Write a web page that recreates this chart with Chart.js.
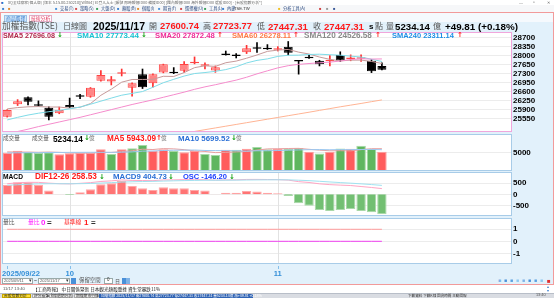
<!DOCTYPE html>
<html><head><meta charset="utf-8">
<script src="https://cdn.jsdelivr.net/npm/chart.js@4.4.1/dist/chart.umd.min.js"></script>
<style>
html,body{margin:0;padding:0;}
body{width:554px;height:298px;overflow:hidden;background:#fff;position:relative;}
.t{position:absolute;white-space:nowrap;line-height:1;}
.box{position:absolute;box-sizing:border-box;}
canvas{position:absolute;}
</style></head><body>
<div class="box" style="left:0;top:0;width:554px;height:5px;background:#fff"></div>
<div class="box" style="left:0;top:5px;width:554px;height:8px;background:#f6f7f9;border-bottom:1px solid #d8dde6"></div>
<div class="box" style="left:0;top:12px;width:554px;height:273px;background:#e2f1fb;border:1px solid #f29a9a"></div>
<div class="box" style="left:1px;top:13px;width:552px;height:9px;background:#f5f9fd"></div>
<div class="box" style="left:4px;top:14.5px;width:23px;height:7px;background:#d4e8f8;border:1px solid #9cc3e6"></div>
<div class="box" style="left:29px;top:14.5px;width:23px;height:7px;background:#fff;border:1px solid #e0b0c8"></div>
<div class="box" style="left:0;top:285px;width:554px;height:8px;background:#fff"></div>
<div class="box" style="left:0;top:293px;width:554px;height:5px;background:#d9dce2;border-top:1px solid #b8bec8"></div>
<div class="box" style="left:2px;top:293.5px;width:29px;height:4.5px;background:#ffe03a;border:1px solid #c8a800"></div>
<div class="box" style="left:32px;top:293.5px;width:16px;height:4.5px;background:#f0f0f0;border:1px solid #aaa"></div>
<div class="box" style="left:49px;top:293.5px;width:24px;height:4.5px;background:#f0f0f0;border:1px solid #aaa"></div>
<div class="box" style="left:74px;top:293.5px;width:24px;height:4.5px;background:#f0f0f0;border:1px solid #aaa"></div>
<div class="box" style="left:99px;top:293.5px;width:154px;height:4.5px;background:#2f63b4"></div>
<div class="box" style="left:2px;top:277.5px;width:31px;height:6px;background:#fff;border:1px solid #9aa"></div>
<div class="box" style="left:38px;top:277.5px;width:32px;height:6px;background:#fff;border:1px solid #9aa"></div>
<div class="box" style="left:71px;top:277.5px;width:5px;height:6px;background:#4a90d8"></div>
<div class="box" style="left:104px;top:277.5px;width:9px;height:6px;background:#fff;border:1px solid #9aa"></div>
<div class="box" style="left:122px;top:277.5px;width:4px;height:6px;background:#4a90d8"></div>
<div class="box" style="left:126px;top:277.5px;width:4px;height:6px;background:#7fb2e6"></div>

<canvas id="cPrice" width="552" height="100" style="left:2px;top:32px"></canvas>
<canvas id="cVol" width="552" height="37" style="left:2px;top:134px"></canvas>
<canvas id="cMacd" width="552" height="44" style="left:2px;top:172px"></canvas>
<canvas id="cRatio" width="552" height="59" style="left:2px;top:218px"></canvas>

<script>
// ---------- data ----------
const dates = ['2025/09/22','2025/09/23','2025/09/24','2025/09/25','2025/09/26','2025/09/30',
 '2025/10/01','2025/10/02','2025/10/03','2025/10/07','2025/10/08','2025/10/09','2025/10/13','2025/10/14',
 '2025/10/15','2025/10/16','2025/10/17','2025/10/20','2025/10/21','2025/10/22','2025/10/23','2025/10/27',
 '2025/10/28','2025/10/29','2025/10/30','2025/10/31','2025/11/03','2025/11/04','2025/11/05','2025/11/06',
 '2025/11/07','2025/11/10','2025/11/11','2025/11/12','2025/11/13','2025/11/14','2025/11/17'];
const opens  = [25628,26110,26380,26065,25978,25760,26080,26420,26405,27028,26990,27300,26755,27277,26925,27340,27378,27417,27700,27610,27420,28045,28010,28130,28320,28265,28230,28350,27785,27915,27805,27780,28025,27870,27880,27805,27600.74];
const highs  = [25900,26290,26400,26240,26010,26000,26350,26500,26760,27420,27190,27480,26940,27480,27290,27670,27535,27770,27950,27720,27600,28180,28080,28400,28505,28430,28350,28550,27800,28030,27820,28000,28150,28030,28030,27850,27723.77];
const lows   = [25610,26060,26080,26040,25500,25740,25980,26330,26380,27010,26860,27210,26420,26720,26770,27330,27300,27350,27680,27480,27350,28020,27910,28080,28130,28240,28180,28030,27280,27890,27600,27600,27770,27800,27780,27340,27447.31];
const closes = [25888,26230,26210,26050,25628,25890,25990,26405,26755,27250,27080,27350,26925,26770,27277,27665,27315,27677,27730,27640,27550,28030,27990,28290,28270,28250,28280,28115,27770,27900,27665,27830,27810,27920,27910,27397.5,27447.31];
const sma5   = [25930,25980,26010,26020,26001,26002,25954,25993,26134,26458,26696,26968,27072,27075,27080,27197,27190,27341,27533,27605,27582,27725,27788,27900,28026,28166,28216,28241,28137,28063,27946,27856,27795,27825,27827,27774,27696.08];
const sma10  = [25500,25600,25690,25760,25820,25870,25930,26000,26110,26230,26349,26461,26532,26604,26769,26947,27079,27206,27304,27343,27390,27458,27564,27716,27816,27874,27971,28015,28019,28045,28056,28036,28018,27981,27945,27860,27773.44];
const sma20  = [24950,25050,25140,25240,25330,25420,25510,25600,25700,25800,25900,26000,26100,26190,26280,26380,26480,26580,26690,26786,26869,26959,27048,27160,27292,27410,27525,27610,27661,27694,27723,27747,27791,27849,27880,27867,27872.48];
const sma60  = [23830,23900,23970,24040,24110,24170,24240,24310,24380,24440,24510,24580,24640,24710,24780,24850,24920,24984,25052,25120,25188,25256,25324,25392,25460,25528,25596,25664,25732,25800,25870,25940,26010,26075,26140,26210,26278.11];
const volume = [5000,5470,5230,5000,5100,4620,4850,5000,5000,5800,4700,5800,6030,6800,5400,5800,5470,5100,5400,4700,4450,5700,5700,5930,6330,5800,5930,5930,6100,5220,4800,5230,6000,5900,6650,5930,5234.14];
const volMa5 = [5200,5150,5150,5100,5160,5084,4960,4914,4914,5054,5070,5260,5466,5826,5746,5966,5900,5714,5434,5294,5024,5070,5190,5296,5622,5892,5938,5984,6018,5796,5596,5456,5470,5430,5716,5942,5943.09];
const volMa10= [4950,4980,5000,5020,5050,5060,5080,5090,5100,5107,5077,5110,5190,5370,5400,5518,5580,5590,5630,5520,5495,5485,5452,5365,5458,5458,5504,5587,5657,5709,5744,5697,5727,5724,5756,5769,5699.52];
const dif    = [480,522,544,541,507,482,474,498,529,583,610,651,630,624,619,652,656,667,662,665,640,654,657,675,676,671,667,645,575,537,476,439,417,398,353,310,258.53];
const macd9  = [412,434,456,473,480,480,479,483,492,510,530,554,569,580,588,601,612,623,631,638,638,641,644,650,655,658,660,657,640,620,591,561,532,505,475,442,404.73];
const osc    = [68,88,88,68,27,2,-5,15,37,73,80,97,61,44,31,51,44,44,31,27,2,12,12,24,20,12,7,-12,-66,-83,-115,-122,-115,-107,-122,-132,-146.20];
const volRatio = [0,0,0,0,0,0,0,0,0,0,0,0,0,0,0,0,0,0,0,0,0,0,0,0,0,0,0,0,0,0,0,0,0,0,0,0,0];
const baseLine = [1,1,1,1,1,1,1,1,1,1,1,1,1,1,1,1,1,1,1,1,1,1,1,1,1,1,1,1,1,1,1,1,1,1,1,1,1];
const priceTicks = [28700,28350,28000,27650,27300,26950,26600,26250,25900,25550];
const volTicks = [5000];
const macdTicks = [500,0,-500];
const ratioTicks = [1,0,-1];

// ---------- text helper ----------
function T(x, cy, txt, o) {
  o = o || {};
  const s = document.createElement('div');
  s.className = 't';
  let size = o.s || 7;
  const k = o.cjk ? 0.52 : 0.49;
  s.style.left = x + 'px';
  s.style.fontSize = size + 'px';
  s.style.color = o.c || '#000';
  s.style.fontWeight = o.b ? 'bold' : 'normal';
  s.style.fontFamily = o.cjk ? '"Noto Sans CJK TC",sans-serif' : (o.f || '"Liberation Sans",sans-serif');
  s.textContent = txt;
  document.body.appendChild(s);
  if (o.w) {
    const w = s.getBoundingClientRect().width;
    if (w > 0) {
      size = Math.max(size * 0.75, Math.min(size * 1.25, size * o.w / w));
      s.style.fontSize = size + 'px';
    }
  }
  s.style.top = (cy - size * k) + 'px';
}
const GREEN = '#17a317', RED = '#ff1a1a';
function arrow(x, cy, up, s) { T(x, cy, up ? '↑' : '↓', {s: s || 7, b: true, c: up ? RED : GREEN, f: '"DejaVu Sans",sans-serif'}); }

// title bar
T(1, 2.5, '■', {s: 4, c: '#2b6fc4'});
T(8, 2.5, 'XQ全球贏家(個人版) [版本 5.15.00.250210][Win64] 已登入人士 [帳號 即時報價ID00 備援ID00] [國內報價ID00 海外報價ID00 選股ID00] - [台股指數分析*]', {s: 3.8, c: '#666', cjk: true});
T(519, 2.6, '—', {s: 4, c: '#666'}); T(533, 2.6, '▫', {s: 5, c: '#666'}); T(547, 2.6, '✕', {s: 4, c: '#666', f: '"DejaVu Sans"'});
// toolbar
const tb = [[2,''],[8,''],[55,'交易(T)'],[75,'策略(S)'],[96,'大盤(D)'],[117,'類股(B)'],[137,'個股(I)'],[158,'期貨(F)'],[180,'選擇權(O)'],[204,'工具(L)'],[222,'內建']];
tb.forEach(([x, t], k) => {
  T(x, 8.6, '■', {s: 4, c: ['#3a7fd0','#e08a2a','#4a90d8','#d04a4a','#3aa05a'][k % 5]});
  if (t) T(x + 5, 8.6, t, {s: 4.2, c: '#2a4a80', cjk: true});
});
T(234, 8.6, 'TSE.TW', {s: 4.2, c: '#333'});
T(278, 8.6, '■', {s: 4, c: '#f0c020'}); T(283, 8.6, '分析工具(A)', {s: 4.2, c: '#2a4a80', cjk: true});
T(319, 8.6, '■', {s: 4, c: '#d04040'}); T(326, 8.6, '■', {s: 4, c: '#999'}); T(333, 8.6, '■', {s: 4, c: '#3b5998'});
// tabs
T(6, 18, '商品選擇', {s: 4.8, c: '#3a7fd0', cjk: true});
T(31, 18, '技術分析', {s: 4.8, c: '#e0305a', cjk: true});
// header row
T(2, 26.5, '加權指數(TSE)', {s: 8.6, c: '#555', cjk: true, w: 56});
T(63, 26.5, '日線圖', {s: 8, c: '#555', cjk: true});
T(93, 26.6, '2025/11/17', {s: 9.8, b: true, w: 52});
T(149, 26.5, '開', {s: 8, c: '#555', cjk: true});
T(160, 26.6, '27600.74', {s: 9.6, b: true, c: RED, w: 39});
T(203, 26.5, '高', {s: 8, c: '#555', cjk: true});
T(213, 26.6, '27723.77', {s: 9.6, b: true, c: RED, w: 39});
T(257, 26.5, '低', {s: 8, c: '#555', cjk: true});
T(268, 26.6, '27447.31', {s: 9.6, b: true, c: RED, w: 40});
T(313, 26.5, '收', {s: 8, c: '#555', cjk: true});
T(324, 26.6, '27447.31', {s: 9.6, b: true, c: RED, w: 40});
T(369, 26.6, 's', {s: 8, b: true});
T(375, 26.5, '點', {s: 8, c: '#555', cjk: true});
T(386, 26.5, '量', {s: 8, c: '#555', cjk: true});
T(395, 26.6, '5234.14', {s: 9.6, b: true, w: 35});
T(433, 26.5, '億', {s: 8, c: '#555', cjk: true});
T(445, 26.6, '+49.81 (+0.18%)', {s: 9.6, b: true, w: 73});
// SMA row
T(3, 35.9, 'SMA5 27696.08', {s: 7, b: true, c: '#b0284a', w: 52}); arrow(57, 35.9, false);
T(77, 35.9, 'SMA10 27773.44', {s: 7, b: true, c: '#19c2d2', w: 62}); arrow(141, 35.9, false);
T(155, 35.9, 'SMA20 27872.48', {s: 7, b: true, c: '#ee2a96', w: 60}); arrow(217, 35.9, true);
T(232, 35.9, 'SMA60 26278.11', {s: 7, b: true, c: '#ff7a45', w: 59}); arrow(293, 35.9, true);
T(304, 35.9, 'SMA120 24526.58', {s: 7, b: true, c: '#8a8a8a', w: 68}); arrow(375, 35.9, true);
T(392, 35.9, 'SMA240 23311.14', {s: 7, b: true, c: '#1e8fe6', w: 62}); arrow(457, 35.9, true);
// volume header
T(3, 138.6, '成交量', {s: 5.6, c: '#555', cjk: true});
T(32, 138.6, '成交量', {s: 5.6, c: '#555', cjk: true});
T(53, 138.7, '5234.14', {s: 8, b: true, w: 30}); arrow(84, 138.7, false);
T(89, 138.6, '億', {s: 5.6, c: '#777', cjk: true});
T(107, 138.7, 'MA5 5943.09', {s: 8, b: true, c: RED, w: 49}); arrow(156, 138.7, true);
T(161, 138.6, '億', {s: 5.6, c: '#777', cjk: true});
T(178, 138.7, 'MA10 5699.52', {s: 8, b: true, c: '#2a6fd6', w: 52}); arrow(231, 138.7, false);
T(236, 138.6, '億', {s: 5.6, c: '#777', cjk: true});
// macd header
T(3, 177, 'MACD', {s: 8, b: true, w: 20});
T(35, 177, 'DIF12-26 258.53', {s: 8, b: true, c: RED, w: 62}); arrow(99, 177, false);
T(113, 177, 'MACD9 404.73', {s: 8, b: true, c: '#2a6fd6', w: 54}); arrow(168, 177, false);
T(183, 177, 'OSC -146.20', {s: 8, b: true, c: '#1a3cff', w: 44}); arrow(229, 177, false);
// ratio header
T(3, 222.5, '量比', {s: 5.8, c: '#555', cjk: true});
T(28, 222.5, '量比', {s: 5.8, c: '#ff22ff', cjk: true});
T(41, 222.6, '0', {s: 8, b: true, c: '#ff22ff'}); T(47, 222.6, '=', {s: 8, b: true, c: '#333'});
T(64, 222.5, '基準線', {s: 5.8, c: RED, cjk: true});
T(84, 222.6, '1', {s: 8, b: true, c: RED}); T(91, 222.6, '=', {s: 8, b: true, c: '#333'});
// control row
T(4, 280.5, '2025/09/11', {s: 4, c: '#555'}); T(29, 280.5, '▾', {s: 5, c: '#333', f: '"DejaVu Sans"'});
T(34, 280.3, '~', {s: 5, c: '#333'});
T(40, 280.5, '2025/11/17', {s: 4, c: '#555'}); T(66, 280.5, '▾', {s: 5, c: '#333', f: '"DejaVu Sans"'});
T(79, 280.5, '保留空間', {s: 5.4, c: '#555', cjk: true});
T(107, 280.5, '0', {s: 4.5, c: '#333'});
T(115, 280.5, '日', {s: 5, c: '#555', cjk: true});
[498,504,510,516,522,528,534,540].forEach((x, k) => T(x, 280.5, '■', {s: 5, c: ['#7fb2e6','#4a90d8','#5aa0e0','#90c8f0'][k % 4]}));
T(547, 280.5, '■', {s: 6, c: '#e03030'});
// status row
T(3, 289, '11/17 13:40', {s: 4.2, c: '#555'});
T(33, 289, '【工商時報】 中日關係緊張 日本觀光類股重挫 資生堂暴跌11%', {s: 4.6, c: '#222', cjk: true});
T(547, 287, '▴', {s: 4, c: '#3a7fd0', f: '"DejaVu Sans"'}); T(547, 291, '▾', {s: 4, c: '#3a7fd0', f: '"DejaVu Sans"'});
// taskbar
T(4, 295.8, '台股指數分析', {s: 3.8, c: '#222', cjk: true});
T(34, 295.8, '評分看盤', {s: 3.8, c: '#333', cjk: true});
T(51, 295.8, 'k線週期分析', {s: 3.8, c: '#333', cjk: true});
T(76, 295.8, '期權期市行情', {s: 3.8, c: '#333', cjk: true});
T(101, 295.8, '加權指數 2025/11/17 開27600.74 高27723.77 低27447.31 收27447.31 量5234.14億 漲+49.81 +0.18%', {s: 3.6, c: '#fff', cjk: true});
T(408, 295.8, '下載資料  下載K線  回測時間  主動回報', {s: 3.6, c: '#333', cjk: true});
T(536, 295.8, '13:40', {s: 3.8, c: '#555'});

// ---------- charts ----------
const slots = dates.concat(['','','','','','','','','','','','']);
const isUp = i => closes[i] >= opens[i];
const volUp = i => i === 0 ? closes[0] >= opens[0] : closes[i] >= closes[i - 1];

const panelPlugin = {
  id: 'panel',
  beforeDraw(chart, args, o) {
    const a = chart.chartArea, c = chart.ctx;
    c.save(); c.fillStyle = '#fff'; c.fillRect(a.left, a.top, a.right - a.left, a.bottom - a.top); c.restore();
  },
  beforeDatasetsDraw(chart) {
    const a = chart.chartArea, c = chart.ctx, x = chart.scales.x;
    c.save(); c.strokeStyle = '#e2e2e2'; c.lineWidth = 1;
    dates.forEach((d, i) => {
      if (i > 0 && d.slice(5, 7) !== dates[i - 1].slice(5, 7)) {
        const px = Math.round(x.getPixelForValue(i)) + 0.5;
        c.beginPath(); c.moveTo(px, a.top); c.lineTo(px, a.bottom); c.stroke();
      }
    });
    c.restore();
  },
  afterDraw(chart, args, o) {
    const a = chart.chartArea, c = chart.ctx;
    c.save(); c.strokeStyle = o.border || '#a8cce8'; c.lineWidth = 1;
    c.strokeRect(a.left + 0.5, a.top + 0.5, a.right - a.left - 1, a.bottom - a.top - 1);
    c.restore();
  }
};

const dateAxisPlugin = {
  id: 'dateAxis',
  afterDraw(chart) {
    const a = chart.chartArea, c = chart.ctx, x = chart.scales.x;
    c.save();
    c.font = 'bold 7.6px "Liberation Sans"';
    c.fillStyle = '#3590d8'; c.strokeStyle = '#86bfea'; c.lineWidth = 1;
    c.textBaseline = 'middle';
    dates.forEach((d, i) => {
      let label = null;
      if (i === 0) label = d;
      else if (d.slice(5, 7) !== dates[i - 1].slice(5, 7)) label = String(parseInt(d.slice(5, 7), 10));
      if (label === null) return;
      const px = x.getPixelForValue(i);
      c.beginPath(); c.moveTo(Math.round(px) + 0.5, a.bottom + 2); c.lineTo(Math.round(px) + 0.5, a.bottom + 5); c.stroke();
      c.textAlign = i === 0 ? 'left' : 'center';
      c.fillText(label, i === 0 ? 0 : px, a.bottom + 9.5);
    });
    c.restore();
  }
};

function yAxis(min, max, ticks) {
  return {
    position: 'right', min: min, max: max,
    grid: {color: '#ececec', drawTicks: false, lineWidth: 1},
    border: {display: false},
    ticks: {padding: 1, autoSkip: false, color: '#000', font: {family: 'Liberation Sans', weight: 'bold', size: 8}, callback: v => String(v)},
    afterBuildTicks: s => { s.ticks = ticks.map(v => ({value: v})); },
    afterFit: s => { s.width = 42; s.paddingTop = 0; s.paddingBottom = 0; }
  };
}
function opts(y, extra, border, padBottom) {
  const scales = {x: {type: 'category', labels: slots, offset: true, display: false}, y: y};
  Object.assign(scales, extra || {});
  return {
    responsive: false, animation: false, events: [],
    layout: {padding: {left: 0, right: 0, top: 0, bottom: padBottom || 0}},
    plugins: {legend: {display: false}, tooltip: {enabled: false}, panel: {border: border}},
    scales: scales
  };
}
const line = (data, color, yid) => ({type: 'line', data: data, borderColor: color, borderWidth: 1, pointRadius: 0, tension: 0, yAxisID: yid || 'y', order: 0});

new Chart(document.getElementById('cPrice'), {
  type: 'bar',
  data: {labels: slots, datasets: [
    {data: lows.map((l, i) => [l, highs[i]]), barThickness: 1, grouped: false,
     backgroundColor: c => isUp(c.dataIndex) ? '#ff3030' : '#000', order: 2},
    {data: opens.map((o, i) => [o, closes[i]]), barPercentage: 0.86, categoryPercentage: 1, grouped: false, minBarLength: 1.5,
     backgroundColor: c => isUp(c.dataIndex) ? '#ff8585' : '#000',
     borderColor: c => isUp(c.dataIndex) ? '#ff4545' : '#000', borderWidth: 1, borderSkipped: false, order: 1},
    line(sma60, '#ffb494'), line(sma20, '#f58ccc'), line(sma10, '#7fdce8'), line(sma5, '#c79a9a')
  ]},
  options: opts(yAxis(25030, 28920, priceTicks), null, '#f0a6dc'),
  plugins: [panelPlugin]
});

new Chart(document.getElementById('cVol'), {
  type: 'bar',
  data: {labels: slots, datasets: [
    {data: volume, barPercentage: 0.92, categoryPercentage: 1,
     backgroundColor: c => volUp(c.dataIndex) ? '#ff5c5c' : '#5fb65f',
     borderColor: c => volUp(c.dataIndex) ? '#ff9a9a' : '#a6d9a6', borderWidth: 1, order: 1},
    line(volMa10, '#9cc8f0'), line(volMa5, '#e8a0a0')
  ]},
  options: opts(yAxis(720, 9380, volTicks), null, '#a8cce8'),
  plugins: [panelPlugin]
});

new Chart(document.getElementById('cMacd'), {
  type: 'bar',
  data: {labels: slots, datasets: [
    {data: osc, yAxisID: 'yo', barPercentage: 0.9, categoryPercentage: 1,
     backgroundColor: c => osc[c.dataIndex] >= 0 ? '#ff7474' : '#72bf72',
     borderColor: c => osc[c.dataIndex] >= 0 ? '#ffa8a8' : '#a8d8a8', borderWidth: 1, order: 1},
    line(macd9, '#a0e2f0'), line(dif, '#ffa6c4')
  ]},
  options: opts(yAxis(-986, 1013, macdTicks), {yo: {display: false, min: -158.6, max: 163}}, '#a8cce8'),
  plugins: [panelPlugin]
});

new Chart(document.getElementById('cRatio'), {
  type: 'line',
  data: {labels: slots, datasets: [
    line(baseLine, '#ff9c9c'), line(volRatio, '#f040f0')
  ]},
  options: opts(yAxis(-1.89, 1.94, ratioTicks), null, '#a8cce8', 13),
  plugins: [panelPlugin, dateAxisPlugin]
});
</script>
</body></html>
